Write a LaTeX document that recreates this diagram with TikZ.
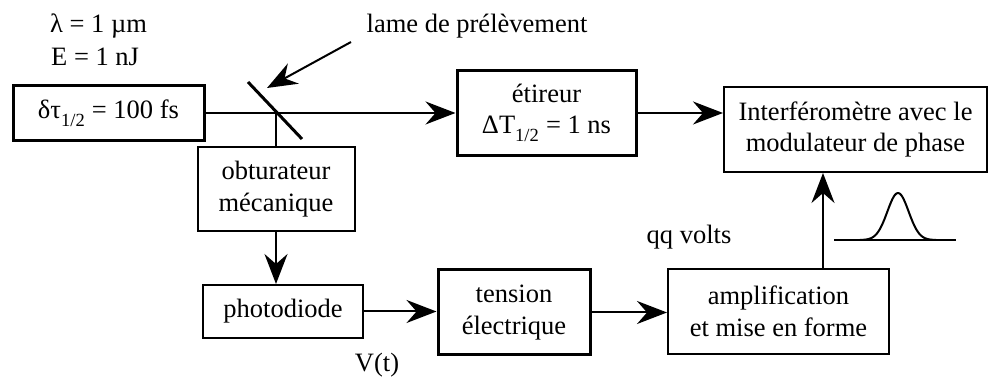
\documentclass[tikz,border=0pt]{standalone}
\usepackage{fontspec}
\setmainfont{Liberation Serif}
\usetikzlibrary{arrows.meta}
\begin{document}
\begin{tikzpicture}[x=1pt,y=-1pt,
  font=\fontsize{26.5}{31.5}\selectfont,
  thinbox/.style={draw, line width=2pt, inner sep=0pt, align=center},
  thickbox/.style={draw, line width=3pt, inner sep=0pt, align=center},
  lbl/.style={inner sep=0pt},
  arr/.style={line width=2pt, -{Stealth[length=30pt,width=23pt,inset=10pt]}},
  ln/.style={line width=2pt}]
\useasboundingbox (0,0) rectangle (991,379);
% boxes
\node[thickbox, minimum width=191pt, minimum height=55pt] (src) at (108.5,113) {δτ\raisebox{-0.35ex}{\textsubscript{1/2}} = 100 fs};
\node[thinbox, minimum width=157pt, minimum height=84pt] (obt) at (276,189) {obturateur\\mécanique};
\node[thinbox, minimum width=160pt, minimum height=53pt] (photo) at (283,311.5) {photodiode};
\node[thickbox, minimum width=152pt, minimum height=85pt] (tens) at (514,312.5) {tension\\électrique};
\node[thinbox, minimum width=221pt, minimum height=85pt] (ampl) at (778.5,311.5) {amplification\\et mise en forme};
\node[thickbox, minimum width=179pt, minimum height=85pt] (etir) at (546.5,113) {étireur\\ΔT\raisebox{-0.35ex}{\textsubscript{1/2}} = 1 ns};
\node[thinbox, minimum width=263pt, minimum height=85pt] (interf) at (855.5,129.5) {Interféromètre avec le\\modulateur de phase};
% labels
\node[lbl, anchor=base west] (lam) at (50,33) {λ = 1 µm};
\node[lbl, anchor=base west] (en) at (51,66) {E = 1 nJ};
\node[lbl, anchor=base] (lame) at (477,33) {lame de prélèvement};
\node[lbl, anchor=base] (qq) at (689,244) {qq volts};
\node[lbl, anchor=base] (vt) at (377,371) {V(t)};
% mirror
\coordinate (m1) at (248,82);
\coordinate (m2) at (302,139);
\coordinate (mc) at (276,113);
\draw[line width=3pt] (m1) -- (m2);
% beams
\draw[arr] (src.east) -- (etir.west);
\draw[ln] (mc) -- (obt.north);
\draw[arr] (obt.south) -- (obt.south |- photo.north);
\draw[arr] (photo.east) -- (tens.west |- photo.east);
\draw[arr] (tens.east) -- (ampl.west |- tens.east);
\coordinate (ax) at (823,0);
\draw[arr] (ampl.north -| ax) -- (interf.south -| ax);
\draw[arr] (etir.east) -- (etir.east -| interf.west);
\coordinate (ls) at (351,42);
\coordinate (lt) at (267,88);
\draw[arr] (ls) -- (lt);
% gaussian pulse
\coordinate (g1) at (834,240);
\coordinate (g2) at (956,240);
\draw[ln] (g1) -- (g2);
\draw[ln] plot[domain=860:936, samples=60, smooth] (\x, {240 - 47*exp(-((\x-898)/15)^2)});
\end{tikzpicture}
\end{document}
